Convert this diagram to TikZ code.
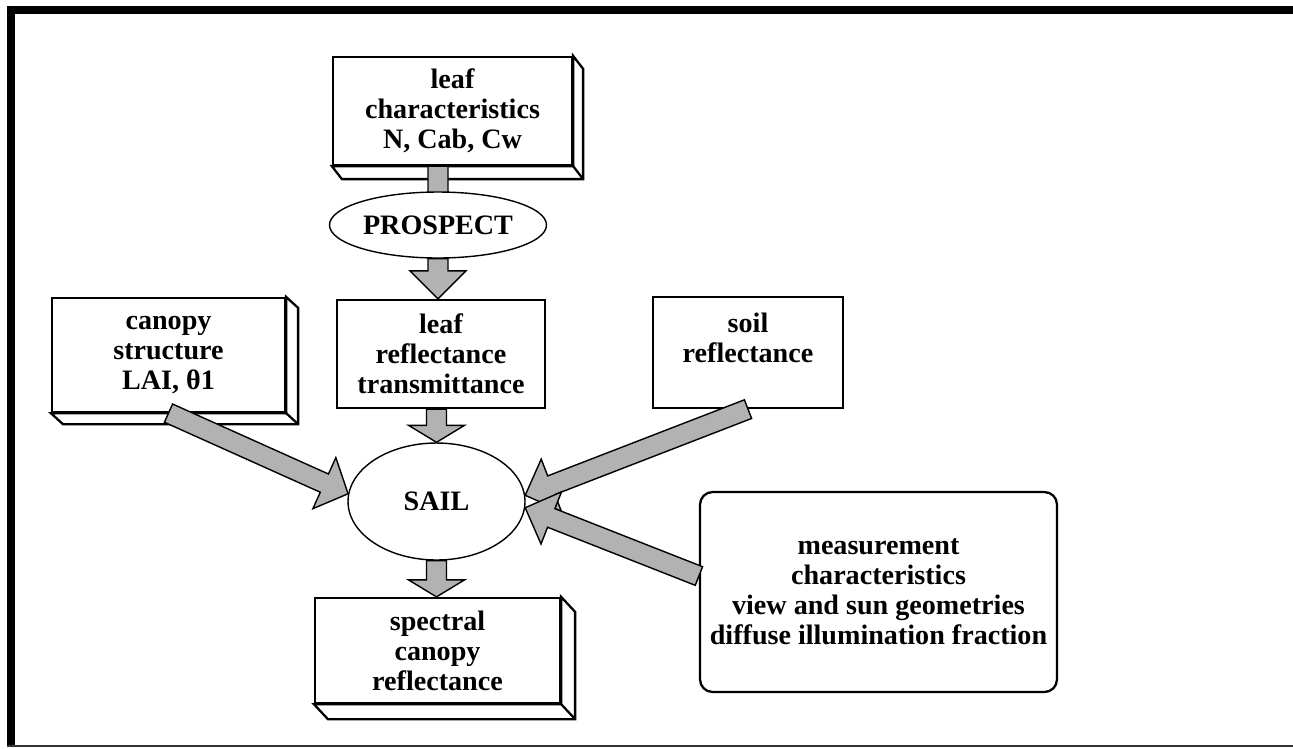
\documentclass[tikz,border=0pt]{standalone}
\usepackage{fontspec}
\setmainfont{Liberation Serif}
\usetikzlibrary{calc,shapes.geometric}
\pgfdeclarelayer{boxes}
\pgfdeclarelayer{arrows}
\pgfsetlayers{boxes,arrows,main}

\newcommand{\shaftw}{0.2cm}
\newcommand{\headw}{0.56cm}
\newcommand{\headlen}{0.56cm}

% block arrow from #2 to #3, head length #1
\newcommand{\blockarrow}[3][\headlen]{%
  \path ($(#3)!#1!(#2)$) coordinate (hb);
  \draw[flow] ($(#2)!\shaftw!90:(#3)$) -- ($(hb)!\shaftw!90:(#3)$) -- ($(hb)!\headw!90:(#3)$)
    -- (#3) -- ($(hb)!\headw!-90:(#3)$) -- ($(hb)!\shaftw!-90:(#3)$) -- ($(#2)!\shaftw!-90:(#3)$) -- cycle;
}
% right and bottom faces of a box
\newcommand{\slab}[3]{%
  \draw[face] (#1.north east) -- ++(#2,#3) -- ($(#1.south east)+(#2,#3)$) -- ($(#1.south west)+(#2,#3)$)
    -- (#1.south west) -- (#1.south east) -- cycle;
  \draw[face] (#1.south east) -- ++(#2,#3);
}

\begin{document}
\begin{tikzpicture}[x=0.02cm, y=-0.02cm,
    box/.style={draw, line width=1.3pt, fill=white, align=center, inner sep=2pt, font=\fontsize{16}{17}\selectfont\bfseries},
    model/.style={ellipse, draw, line width=0.8pt, fill=white, inner sep=1pt, font=\fontsize{16}{17}\selectfont\bfseries},
    flow/.style={draw=black, line width=0.8pt, fill=gray!60, line join=miter},
    face/.style={draw, line width=1.3pt, fill=white, line join=miter}
]
\useasboundingbox (0,0) rectangle (1293,748);

% Frame
\fill (7,6) rectangle (1293,14);
\fill (7,6) rectangle (15,747);
\fill[black!80] (7,745) rectangle (1293,747);

% Boxes
\begin{pgfonlayer}{boxes}
\node[box, minimum width=4.78cm, minimum height=2.16cm] (leafchar) at (452.5,111) {leaf\\characteristics\\N, Cab, Cw};
\node[box, minimum width=4.16cm, minimum height=2.16cm] (leafrefl) at (441,354) {leaf\\reflectance\\transmittance};
\node[box, minimum width=4.66cm, minimum height=2.28cm] (canopy) at (168.5,355) {canopy\\structure\\LAI, θ1};
\node[box, minimum width=3.8cm, minimum height=2.22cm] (soil) at (748,352.5) {soil\\reflectance\\\mbox{}};
\node[box, minimum width=4.9cm, minimum height=2.1cm] (spectral) at (437.5,650.5) {spectral\\canopy\\reflectance};
\node[box, rounded corners=0.25cm, minimum width=7.14cm, minimum height=4cm] (measure) at (878.5,592) {measurement\\characteristics\\view and sun geometries\\diffuse illumination fraction};

\slab{leafchar}{10}{13}
\slab{canopy}{12}{11}
\slab{spectral}{14}{15}
\end{pgfonlayer}

% Models
\node[model, minimum width=4cm, minimum height=1.32cm] (prospect) at (438,225) {PROSPECT};
\node[model, minimum width=3.54cm, minimum height=2.34cm] (sail) at (436.5,501.5) {SAIL};

\coordinate (leafout) at (prospect |- leafchar.south);
\coordinate (prospin) at ($(prospect.center)+(0,6)$);
\coordinate (reflin) at (prospect |- leafrefl.north);
\coordinate (reflout) at (sail |- leafrefl.south);
\coordinate (spectin) at (sail |- spectral.north);
\coordinate (measout) at ($(measure.west)+(0,-16)$);

% Arrows
\begin{pgfonlayer}{arrows}
\blockarrow{leafout}{prospin}
\blockarrow{prospect.south}{reflin}
\blockarrow[0.34cm]{reflout}{sail.north}
\blockarrow[0.34cm]{sail.south}{spectin}
\blockarrow[0.52cm]{canopy.south}{sail.175}
\blockarrow{soil.south}{sail.4}
\blockarrow{measout}{sail.-4}
\end{pgfonlayer}

\end{tikzpicture}
\end{document}
